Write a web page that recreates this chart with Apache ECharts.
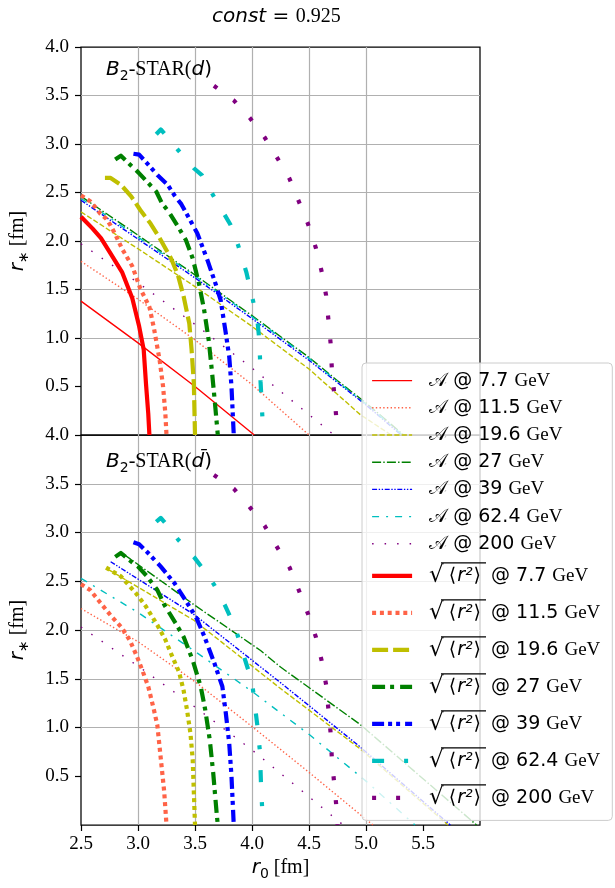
<!DOCTYPE html>
<html>
<head>
<meta charset="utf-8">
<script src="https://cdn.jsdelivr.net/npm/echarts@6/dist/echarts.min.js"></script>
<style>
  html, body { margin: 0; padding: 0; background: #ffffff; }
  #chart { width: 615px; height: 888px; }
</style>
</head>
<body>
<div id="chart"></div>
<script>
// Collision energies (GeV) and their colours
const energies = ['7.7', '11.5', '19.6', '27', '39', '62.4', '200'];
const energyColors = ['#ff0000', '#ff6347', '#bfbf00', '#008000', '#0000ff', '#00bfbf', '#800080'];

// Axis ticks
const xTicks = [2.5, 3.0, 3.5, 4.0, 4.5, 5.0, 5.5];
const yTicks = [0.5, 1.0, 1.5, 2.0, 2.5, 3.0, 3.5, 4.0];

// ---- B2-STAR(d): A curves, [r0, r*] ----
const aD_7_7  = [[2.5,1.38],[3.0,0.95],[3.5,0.50],[4.02,0.0]];
const aD_11_5 = [[2.5,1.79],[3.0,1.40],[3.5,0.98],[4.0,0.52],[4.5,0.0]];
const aD_19_6 = [[2.5,2.30],[3.0,1.92],[3.5,1.53],[4.0,1.12],[4.5,0.68],[4.95,0.21],[5.22,0.0]];
const aD_27   = [[2.5,2.46],[3.0,2.06],[3.5,1.65],[4.0,1.23],[4.5,0.80],[4.75,0.56],[5.0,0.33],[5.33,0.0]];
const aD_39   = [[2.5,2.42],[3.0,2.02],[3.5,1.62],[4.0,1.20],[4.5,0.77],[4.75,0.54],[5.0,0.31],[5.31,0.0]];
const aD_62_4 = [[2.5,2.44],[3.0,2.04],[3.5,1.64],[4.0,1.22],[4.5,0.79],[4.75,0.55],[5.0,0.32],[5.32,0.0]];
const aD_200  = [[2.5,1.97],[3.0,1.57],[3.5,1.14],[4.0,0.69],[4.5,0.21],[4.72,0.0]];

// ---- B2-STAR(d): sqrt<r^2> curves ----
const rD_7_7  = [[2.5,2.25],[2.6,2.13],[2.675,2.03],[2.76,1.87],[2.86,1.68],[2.95,1.41],[3.01,1.12],[3.05,0.88],[3.07,0.53],[3.09,0.22],[3.10,0.0]];
const rD_11_5 = [[2.5,2.47],[2.58,2.41],[2.625,2.35],[2.67,2.28],[2.72,2.23],[2.76,2.16],[2.80,2.07],[2.86,1.92],[2.95,1.74],[3.02,1.51],[3.10,1.32],[3.14,1.10],[3.19,0.77],[3.22,0.50],[3.24,0.22],[3.25,0.0]];
const rD_19_6 = [[2.71,2.65],[2.76,2.65],[2.85,2.58],[2.94,2.46],[3.02,2.32],[3.11,2.18],[3.185,2.04],[3.29,1.82],[3.35,1.65],[3.40,1.43],[3.45,1.15],[3.47,0.88],[3.49,0.53],[3.50,0.0]];
const rD_27   = [[2.80,2.84],[2.85,2.88],[2.92,2.80],[3.00,2.71],[3.08,2.61],[3.16,2.51],[3.21,2.39],[3.27,2.30],[3.35,2.15],[3.42,2.01],[3.48,1.82],[3.535,1.56],[3.58,1.29],[3.62,0.98],[3.65,0.64],[3.675,0.33],[3.70,0.0]];
const rD_39   = [[2.96,2.90],[3.01,2.89],[3.08,2.80],[3.17,2.68],[3.26,2.58],[3.32,2.47],[3.38,2.38],[3.45,2.23],[3.52,2.08],[3.61,1.80],[3.68,1.56],[3.725,1.39],[3.77,1.05],[3.80,0.81],[3.82,0.50],[3.84,0.0]];
const rD_62_4 = [[3.16,3.10],[3.20,3.15],[3.23,3.11],[3.35,2.94],[3.49,2.75],[3.56,2.68],[3.66,2.47],[3.76,2.27],[3.81,2.17],[3.88,1.95],[3.95,1.68],[4.01,1.38],[4.05,1.15],[4.06,1.03],[4.07,0.80],[4.075,0.55],[4.09,0.21],[4.10,0.0]];
const rD_200  = [[3.666,3.60],[3.84,3.45],[3.98,3.27],[4.11,3.07],[4.22,2.86],[4.33,2.64],[4.41,2.41],[4.49,2.18],[4.56,1.93],[4.61,1.69],[4.65,1.44],[4.67,1.19],[4.69,0.94],[4.70,0.69],[4.72,0.44],[4.74,0.17],[4.75,0.0]];

// ---- B2-STAR(dbar): A curves ----
const aDb_11_5 = [[2.5,2.22],[3.0,1.88],[3.5,1.47],[4.0,1.01],[4.5,0.54],[5.06,0.0]];
const aDb_19_6 = [[2.74,2.62],[3.49,2.10],[4.25,1.40],[4.95,0.78],[5.72,0.0]];
const aDb_27   = [[2.87,2.78],[3.29,2.43],[3.49,2.26],[4.075,1.79],[4.25,1.62],[4.95,1.03],[5.97,0.0]];
const aDb_39   = [[2.76,2.70],[3.49,2.16],[4.25,1.46],[4.95,0.80],[5.74,0.0]];
const aDb_62_4 = [[2.5,2.53],[3.0,2.18],[3.5,1.78],[4.0,1.37],[4.5,0.93],[5.0,0.45],[5.43,0.0]];
const aDb_200  = [[2.5,2.03],[3.0,1.63],[3.5,1.21],[4.0,0.77],[4.5,0.29],[4.8,0.0]];

// ---- B2-STAR(dbar): sqrt<r^2> curves ----
const rDb_11_5 = [[2.5,2.47],[2.58,2.41],[2.67,2.28],[2.76,2.15],[2.86,2.02],[2.93,1.89],[2.99,1.73],[3.04,1.58],[3.09,1.42],[3.14,1.18],[3.17,1.02],[3.20,0.68],[3.23,0.34],[3.25,0.0]];
const rDb_19_6 = [[2.72,2.64],[2.85,2.55],[2.98,2.38],[3.07,2.24],[3.17,2.05],[3.24,1.90],[3.30,1.73],[3.36,1.57],[3.40,1.38],[3.43,1.18],[3.46,0.94],[3.48,0.67],[3.49,0.33],[3.50,0.0]];
const rDb_27   = [[2.80,2.75],[2.85,2.79],[2.92,2.72],[3.00,2.65],[3.08,2.55],[3.17,2.41],[3.23,2.26],[3.33,2.07],[3.40,1.93],[3.48,1.69],[3.55,1.42],[3.59,1.18],[3.63,0.87],[3.66,0.53],[3.69,0.12],[3.70,0.0]];
const rDb_39   = [[2.96,2.90],[3.01,2.88],[3.08,2.80],[3.20,2.65],[3.32,2.48],[3.43,2.28],[3.51,2.13],[3.58,1.94],[3.67,1.66],[3.74,1.42],[3.77,1.15],[3.80,0.84],[3.82,0.50],[3.84,0.0]];
const rDb_62_4 = [[3.16,3.11],[3.20,3.15],[3.23,3.11],[3.35,2.93],[3.49,2.75],[3.62,2.55],[3.67,2.46],[3.76,2.26],[3.85,2.03],[3.91,1.81],[3.94,1.69],[4.00,1.47],[4.05,0.99],[4.07,0.75],[4.08,0.38],[4.09,0.15],[4.095,0.0]];
const rDb_200  = [[3.666,3.59],[3.84,3.45],[3.98,3.26],[4.11,3.07],[4.22,2.85],[4.33,2.64],[4.41,2.41],[4.49,2.17],[4.56,1.93],[4.61,1.69],[4.65,1.44],[4.67,1.19],[4.69,0.94],[4.70,0.69],[4.72,0.44],[4.74,0.19],[4.75,0.0]];

// Line styles (dash patterns in px), one per energy
const thinDash  = ['solid', [1.4,2.3], [5.2,2.2], [9,2.2,1.4,2.2], [5,1.6,1.4,1.6,1.4,1.6], [7,7,2,7], [1.5,11]];
const thickDash = ['solid', [4,3.8], [16,5], [13,5,4,6], [12,4,4,4,4,5], [12,20,4,21], [4,20]];
const thickDashBar = ['solid', [4,3.8], [4,3.8], [13,5,4,6], [12,4,4,4,4,5], [12,20,4,21], [4,20]];
const THIN = 1.4, THICK = 4.2;

const aName = e => '𝒜 @ ' + e + ' GeV';
const rName = e => '√⟨r²⟩ @ ' + e + ' GeV';

const panelD = {
  a: [aD_7_7, aD_11_5, aD_19_6, aD_27, aD_39, aD_62_4, aD_200],
  r: [rD_7_7, rD_11_5, rD_19_6, rD_27, rD_39, rD_62_4, rD_200],
  dash: thickDash
};
const panelDb = {
  a: [null, aDb_11_5, aDb_19_6, aDb_27, aDb_39, aDb_62_4, aDb_200],
  r: [null, rDb_11_5, rDb_19_6, rDb_27, rDb_39, rDb_62_4, rDb_200],
  dash: thickDashBar
};

function lineSeries(name, data, idx, color, width, dash) {
  return {
    name: name, type: 'line', xAxisIndex: idx, yAxisIndex: idx,
    data: data, symbol: 'none', showSymbol: false, animation: false, silent: true,
    lineStyle: { color: color, width: width, type: dash, cap: 'butt', join: 'round' }
  };
}

const series = [];
[panelD, panelDb].forEach((p, idx) => {
  energies.forEach((e, i) => {
    if (p.a[i]) series.push(lineSeries(aName(e), p.a[i], idx, energyColors[i], THIN, thinDash[i]));
  });
  energies.forEach((e, i) => {
    if (p.r[i]) series.push(lineSeries(rName(e), p.r[i], idx, energyColors[i], THICK, p.dash[i]));
  });
});

const SANS = 'DejaVu Sans', SERIF = 'Liberation Serif';
const FS = 19;
const LEG_TOP = 363, LEG_PAD = 4, ROW_A = 27.2, ROW_R = 37;

const legendData = [];
energies.forEach((e, i) => legendData.push({
  name: aName(e),
  lineStyle: { width: THIN, type: thinDash[i], color: energyColors[i] }
}));
energies.forEach((e, i) => legendData.push({
  name: rName(e),
  lineStyle: { width: THICK, type: thickDash[i], color: energyColors[i] }
}));

const gridLine = { show: true, showMinLine: false, showMaxLine: false, lineStyle: { color: '#b0b0b0', width: 1.2 } };
const tickFmt = v => (Math.abs(v) < 1e-9 ? '' : v.toFixed(1));

const subRich = { fontFamily: SANS, fontSize: 14, lineHeight: 14, verticalAlign: 'bottom', color: '#000' };

function xAxis(idx, labels) {
  return {
    type: 'value', gridIndex: idx, min: 2.5, max: 6.0, interval: 0.5,
    axisLine: { show: false },
    axisTick: { show: labels, length: 6, lineStyle: { color: '#000', width: 1.2 }, customValues: xTicks },
    axisLabel: { show: labels, customValues: xTicks, formatter: v => v.toFixed(1), margin: 10,
                 fontFamily: SERIF, fontSize: FS, color: '#000' },
    splitLine: gridLine,
    name: labels ? '{r|r}{s|0}{u| [fm]}' : '', nameLocation: 'middle', nameGap: 30,
    nameTextStyle: { rich: {
      r: { fontFamily: SANS, fontStyle: 'italic', fontSize: 20, lineHeight: 26, color: '#000' },
      s: subRich,
      u: { fontFamily: SERIF, fontSize: 20, lineHeight: 26, color: '#000' } } }
  };
}
function yAxis(idx) {
  return {
    type: 'value', gridIndex: idx, min: 0, max: 4, interval: 0.5,
    axisLine: { show: false },
    axisTick: { show: true, length: 6, lineStyle: { color: '#000', width: 1.2 }, customValues: yTicks },
    axisLabel: { customValues: yTicks, formatter: tickFmt, margin: 12, fontFamily: SERIF, fontSize: FS, color: '#000' },
    splitLine: gridLine,
    name: '{r|r}{s|∗}{u| [fm]}', nameLocation: 'middle', nameGap: 50, nameRotate: 90,
    nameTextStyle: { rich: {
      r: { fontFamily: SANS, fontStyle: 'italic', fontSize: 20, lineHeight: 26, color: '#000' },
      s: subRich,
      u: { fontFamily: SERIF, fontSize: 20, lineHeight: 26, color: '#000' } } }
  };
}

const panelRich = {
  b: { fontFamily: SANS, fontStyle: 'italic', fontWeight: 'normal', fontSize: 20, lineHeight: 26, color: '#000' },
  sub: { fontFamily: SANS, fontWeight: 'normal', fontSize: 14, lineHeight: 14, verticalAlign: 'bottom', color: '#000' },
  s: { fontFamily: SERIF, fontWeight: 'normal', fontSize: 20, lineHeight: 26, color: '#000' },
  d: { fontFamily: SANS, fontStyle: 'italic', fontWeight: 'normal', fontSize: 20, lineHeight: 26, color: '#000' },
  p: { fontFamily: SANS, fontWeight: 'normal', fontSize: 20, lineHeight: 26, color: '#000' }
};

// overbars of the square-root signs in the legend rows
const overbars = energies.map((e, k) => {
  const cy = LEG_TOP + LEG_PAD + 7 * ROW_A + ROW_R * (k + 0.5);
  return { type: 'line', z: 100, silent: true,
           shape: { x1: 441, y1: cy - 13, x2: 486, y2: cy - 13 },
           style: { stroke: '#000', lineWidth: 1.4 } };
});

const option = {
  backgroundColor: '#ffffff',
  animation: false,
  title: [
    { text: '{i|const}{e| = }{n|0.925}', left: 207, top: 2,
      textStyle: { fontWeight: 'normal', rich: {
        i: { fontFamily: SANS, fontStyle: 'italic', fontWeight: 'normal', fontSize: 20, color: '#000' },
        e: { fontFamily: SANS, fontWeight: 'normal', fontSize: 20, color: '#000' },
        n: { fontFamily: SERIF, fontWeight: 'normal', fontSize: 20, color: '#000' } } } },
    { text: '{b|B}{sub|2}{s|-STAR(}{d|d}{p|)}', left: 101, top: 52, textStyle: { fontWeight: 'normal', rich: panelRich } },
    { text: '{b|B}{sub|2}{s|-STAR(}{d|d̄}{p|)}', left: 101, top: 444, textStyle: { fontWeight: 'normal', rich: panelRich } }
  ],
  grid: [
    { left: 80, top: 47, width: 400, height: 388, show: true, borderColor: '#000', borderWidth: 1.25, backgroundColor: 'transparent' },
    { left: 80, top: 435, width: 400, height: 390, show: true, borderColor: '#000', borderWidth: 1.25, backgroundColor: 'transparent' }
  ],
  xAxis: [xAxis(0, false), xAxis(1, true)],
  yAxis: [yAxis(0), yAxis(1)],
  legend: {
    orient: 'vertical', left: 362, top: LEG_TOP,
    padding: [LEG_PAD, 12, 4, 8], itemGap: 0, itemWidth: 40, itemHeight: 14,
    backgroundColor: 'rgba(255,255,255,0.8)', borderColor: '#cccccc', borderWidth: 1, borderRadius: 4,
    itemStyle: { opacity: 0 },
    selectedMode: false,
    data: legendData,
    textStyle: {
      // a transparent box so the row height follows the line height
      backgroundColor: 'rgba(255,255,255,0)',
      padding: [0, 0, 0, 12], color: '#000',
      rich: {
        c:  { fontFamily: SANS, fontSize: FS, lineHeight: ROW_A, color: '#000' },
        s:  { fontFamily: SANS, fontSize: FS, lineHeight: ROW_A, color: '#000' },
        g:  { fontFamily: SERIF, fontSize: FS, lineHeight: ROW_A, color: '#000' },
        rt: { fontFamily: SANS, fontSize: 23, lineHeight: ROW_R, color: '#000', padding: [0, 1, 0, 0] },
        bl: { fontFamily: SANS, fontSize: FS, lineHeight: ROW_R, color: '#000', padding: [0, 1, 0, 4] },
        bri:{ fontFamily: SANS, fontSize: FS, lineHeight: ROW_R, color: '#000', padding: [0, 4, 0, 1] },
        ri: { fontFamily: SANS, fontStyle: 'italic', fontSize: FS, lineHeight: ROW_R, color: '#000' },
        s2: { fontFamily: SANS, fontSize: FS, lineHeight: ROW_R, color: '#000' },
        g2: { fontFamily: SERIF, fontSize: FS, lineHeight: ROW_R, color: '#000' }
      }
    },
    formatter: function (name) {
      const e = name.match(/@ (\S+) GeV/)[1];
      if (name.charAt(0) === '√') {
        return '{rt|√}{bl|⟨}{ri|r²}{bri|⟩}{s2| @ ' + e + ' }{g2|GeV}';
      }
      return '{c|𝒜}{s| @ ' + e + ' }{g|GeV}';
    }
  },
  graphic: overbars,
  series: series
};

const chart = echarts.init(document.getElementById('chart'), null, { renderer: 'canvas' });
chart.setOption(option);
</script>
</body>
</html>
